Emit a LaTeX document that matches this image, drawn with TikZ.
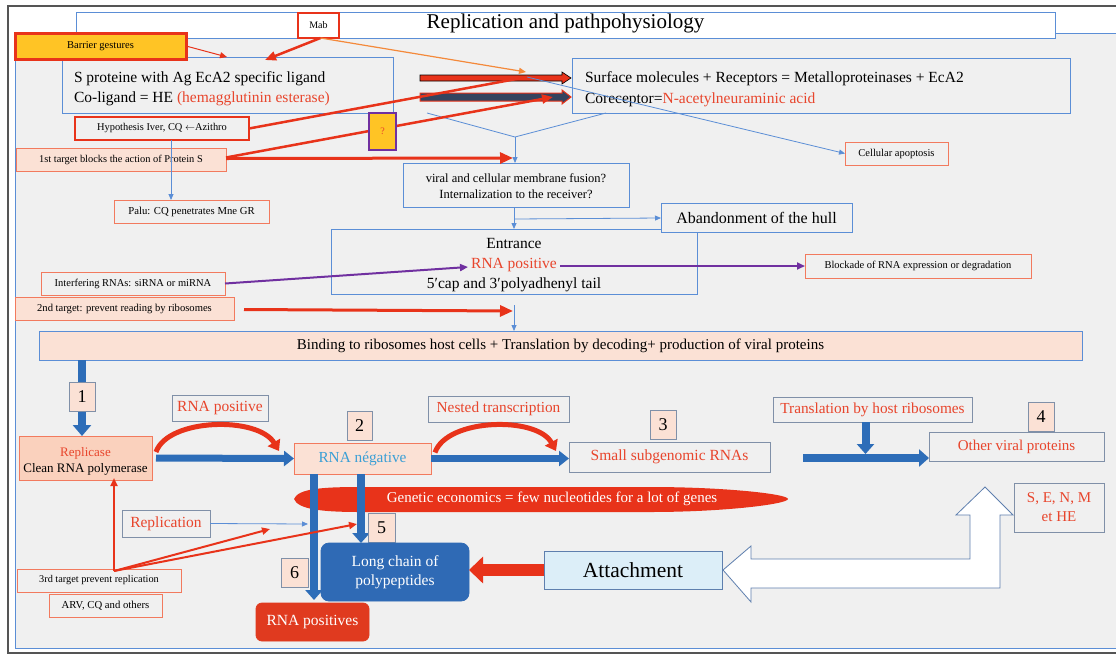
\documentclass[tikz,border=0pt]{standalone}
\usepackage{fontspec}
\setmainfont{Liberation Serif}
\usetikzlibrary{arrows.meta,calc}
\definecolor{bgc}{HTML}{F0F0F0}
\definecolor{bln}{HTML}{5B8ED6}
\definecolor{rdt}{HTML}{E8452C}
\definecolor{rdl}{HTML}{E8331A}
\definecolor{salf}{HTML}{FBE1D5}
\definecolor{sald}{HTML}{F27A5E}
\definecolor{repf}{HTML}{FAD1BD}
\definecolor{gld}{HTML}{FFC425}
\definecolor{purp}{HTML}{7030A0}
\definecolor{blA}{HTML}{2D6DB8}
\definecolor{chainf}{HTML}{2F6AB5}
\definecolor{attf}{HTML}{DCEEF8}
\definecolor{attd}{HTML}{5E7FAE}
\definecolor{numd}{HTML}{8090A8}
\definecolor{orng}{HTML}{F4893A}
\definecolor{negt}{HTML}{3A9FD5}
\definecolor{darkbar}{HTML}{34445F}
\definecolor{grayf}{HTML}{555555}
\definecolor{rposf}{HTML}{E03A1F}
\newcommand\fsz[1]{\fontsize{#1}{1.25\dimexpr #1pt\relax}\selectfont}
\newcommand\dnl[2]{\raisebox{-#1}[\height][\depth]{\begin{tabular}{@{}l@{}}#2\end{tabular}}}
\newcommand\dnc[2]{\raisebox{-#1}[\height][\depth]{\begin{tabular}{@{}c@{}}#2\end{tabular}}}
\begin{document}
\begin{tikzpicture}[x=1pt,y=-1pt,
  bx/.style={inner sep=0pt, outer sep=0pt, anchor=north west, align=center, line width=0.8pt},
  bl/.style={bx, draw=bln},
  sl/.style={bx, draw=sald},
  nb/.style={bx, draw=numd, fill=salf, font=\fsz{18}},
  thinb/.style={draw=bln, line width=0.8pt, -{Triangle[length=6pt,width=5pt]}},
  thickr/.style={draw=rdl, line width=2.5pt, -{Triangle[length=11pt,width=9pt]}},
  fatb/.style={draw=blA, line width=8pt, -{Triangle[length=11pt,width=18pt]}},
  curv/.style={draw=rdl, line width=5pt, -{Triangle[length=10pt,width=14pt]}},
  purpa/.style={draw=purp, line width=2pt, -{Triangle[length=8pt,width=7pt]}}
]
\useasboundingbox (0,0) rectangle (1116,654);
\fill[white] (0,0) rectangle (1116,654);
\fill[bgc] (15,33) rectangle (1116,648);
\draw[bln, line width=0.8pt] (1116,33) -- (15,33) -- (15,648) -- (1116,648);
\draw[grayf, line width=1.5pt] (1116,6) -- (8,6) -- (8,653) -- (1116,653);

% ---------- top ----------
\node[bl, fill=white, minimum width=979, minimum height=26, font=\fsz{21}] (title) at (76,12) {\raisebox{1.5pt}[\height][\depth]{Replication and pathpohysiology}};
\node[bl, fill=bgc, minimum width=331, minimum height=56, inner xsep=12pt, anchor=north west, font=\fontsize{15.5}{20}\selectfont] (sprot) at (62,57)
  {\makebox[307pt][l]{\dnl{3pt}{S proteine with Ag EcA2 specific ligand\\Co-ligand = HE \textcolor{rdt}{(hemagglutinin esterase)}}}};
\node[bx, draw=rdl, line width=2.5pt, fill=white, minimum width=41, minimum height=25, font=\fsz{10}] (mab) at (298,13) {Mab};
\node[bx, draw=rdl, line width=3pt, fill=gld, minimum width=171, minimum height=26, font=\fsz{10.5}] (barrier) at (15,33) {Barrier gestures};
\node[bl, fill=bgc, minimum width=498, minimum height=55, inner xsep=13pt, font=\fontsize{15.5}{20.5}\selectfont] (surf) at (572,58)
  {\makebox[472pt][l]{\dnl{3.5pt}{Surface molecules + Receptors = Metalloproteinases + EcA2\\Coreceptor=\textcolor{rdt}{N-acetylneuraminic acid}}}};

% bars
\draw[fill=rdl, draw=black, line width=0.6pt] (420,75) -- (562,75) -- (562,72) -- (571,78) -- (562,84) -- (562,81) -- (420,81) -- cycle;
\draw[fill=darkbar, draw=rdl, line width=1pt] (420,93) -- (562,93) -- (562,90) -- (571,97) -- (562,104) -- (562,101) -- (420,101) -- cycle;
\coordinate (bar1) at (527,77);
\coordinate (bar2) at (553,97);
\coordinate (orgend) at (526,72);

\node[bx, draw=rdl, line width=2.5pt, fill=bgc, minimum width=174, minimum height=23, font=\fsz{10.4}] (hyp) at (75,117) {Hypothesis Iver, CQ $\leftarrow$Azithro};
\node[sl, fill=salf, minimum width=210, minimum height=23, font=\fsz{10.4}] (first) at (16,148) {1st target blocks the action of Protein S};
\node[sl, fill=bgc, minimum width=155, minimum height=23, font=\fsz{10.7}] (palu) at (114,200) {Palu: CQ penetrates Mne GR};
\node[bl, fill=bgc, minimum width=226, minimum height=44, font=\fontsize{12.5}{16}\selectfont] (viral) at (403,163) {\dnc{2pt}{viral and cellular membrane fusion?\\Internalization to the receiver?}};
\node[sl, fill=bgc, minimum width=103, minimum height=23, font=\fsz{10.5}] (apop) at (845,142) {Cellular apoptosis};
\node[bl, minimum width=366, minimum height=65, font=\fontsize{15.5}{20}\selectfont] (entr) at (331,229) {\dnc{3pt}{Entrance\\\textcolor{rdt}{RNA positive}\\5′cap and 3′polyadhenyl tail}};
\node[bl, fill=bgc, minimum width=191, minimum height=29, font=\fsz{16}] (aband) at (661,203) {Abandonment of the hull};
\node[sl, fill=bgc, minimum width=184, minimum height=23, font=\fsz{10.5}] (interf) at (41,272) {Interfering RNAs: siRNA or miRNA};
\node[sl, fill=salf, minimum width=219, minimum height=23, font=\fsz{10.6}] (second) at (15,297) {2nd target: prevent reading by ribosomes};
\node[sl, fill=bgc, minimum width=226, minimum height=24, font=\fsz{10.5}] (block) at (805,254) {Blockade of RNA expression or degradation};
\node[bl, fill=salf, minimum width=1043, minimum height=29, font=\fsz{15}] (bind) at (39,331) {Binding to ribosomes host cells + Translation by decoding+ production of viral proteins};

% top connectors
\draw[draw=rdl, line width=1pt, -{Triangle[length=7pt,width=6pt]}] (barrier.east) -- ([xshift=165pt]sprot.north west);
\draw[thickr] ([xshift=2pt]mab.south) -- ([xshift=203pt,yshift=-3pt]sprot.north west);
\draw[draw=orng, line width=1.2pt, -{Triangle[length=7pt,width=6pt]}] ([xshift=2pt]mab.south) -- (orgend);
\draw[draw=bln, line width=0.8pt, -{Triangle[length=6pt,width=5pt]}] (bar1) -- (apop.west);
\coordinate (vl) at (427,113);
\coordinate (vtx) at (515,137);
\draw[draw=bln, line width=0.8pt] (vl) -- (vtx) -- ([xshift=34pt]surf.south west);
\draw[thinb] (vtx) -- (vtx |- viral.north);
\draw[draw=rdl, line width=2.5pt] (hyp.east) -- (bar1);
\draw[thickr] ([yshift=2pt]first.east) -- (bar2);
\draw[draw=rdl, line width=3pt, -{Triangle[length=13pt,width=11pt]}] ([yshift=1pt]first.east) -- ([xshift=-3pt,yshift=5pt]viral.north);
\node[bx, draw=purp, line width=2.5pt, fill=gld, minimum width=27, minimum height=37, font=\fsz{10}] (q) at (369,113) {\textcolor{rdt}{?}};
\draw[thinb] ([xshift=9pt]hyp.south) -- ([xshift=9pt]hyp.south |- palu.north);
\draw[thinb] ([xshift=-2pt]viral.south) -- ([xshift=-2pt]viral.south |- entr.north);
\draw[thinb] ([xshift=-2pt,yshift=-12pt]viral.south) -- ([yshift=-0.5pt]aband.west);
\coordinate (rnap) at (468,267);
\coordinate (rnape) at (560,266);
\draw[purpa] (interf.east) -- (rnap);
\draw[purpa] (rnape) -- (rnape -| block.west);
\coordinate (sec) at (513,311);
\draw[draw=rdl, line width=3pt, -{Triangle[length=13pt,width=11pt]}] ([xshift=10pt,yshift=-1pt]second.east) -- (sec);
\draw[thinb] ([yshift=-11pt]entr.south) -- (entr.south |- bind.north);

% ---------- bottom ----------
\coordinate (ell) at (294,499);
\draw[fatb] (82,360) -- (82,436);
\node[nb, minimum width=26, minimum height=29] (one) at (69,382) {1};
\node[bx, draw=sald, line width=1pt, fill=repf, minimum width=133, minimum height=44, font=\fontsize{13}{16}\selectfont] (repl) at (19,436) {\dnc{3pt}{\textcolor{rdt}{Replicase}\\Clean RNA polymerase}};
\node[bx, draw=numd, fill=bgc, minimum width=96, minimum height=26, font=\fsz{15.5}] (posl) at (172,395) {\textcolor{rdt}{RNA positive}};
\node[nb, minimum width=25, minimum height=29] (two) at (347,411) {2};
\node[bx, draw=sald, line width=1pt, fill=salf, minimum width=137, minimum height=31, font=\fsz{15.3}] (neg) at (294,443) {\textcolor{negt}{RNA négative}};
\node[bx, draw=numd, fill=bgc, minimum width=141, minimum height=26, font=\fsz{15.3}] (nest) at (428,396) {\textcolor{rdt}{Nested transcription}};
\node[nb, minimum width=26, minimum height=29] (three) at (650,410) {3};
\node[bx, draw=numd, fill=bgc, minimum width=201, minimum height=30, font=\fsz{15.5}] (small) at (569,442) {\textcolor{rdt}{Small subgenomic RNAs}};
\node[bx, draw=numd, fill=bgc, minimum width=199, minimum height=25, font=\fsz{15.3}] (trans) at (773,397) {\textcolor{rdt}{Translation by host ribosomes}};
\node[nb, minimum width=26, minimum height=29] (four) at (1028,402) {4};
\node[bx, draw=numd, fill=bgc, minimum width=175, minimum height=29, font=\fsz{15}] (other) at (929,432) {\textcolor{rdt}{Other viral proteins}};
\node[bx, draw=numd, fill=bgc, minimum width=90, minimum height=49, font=\fontsize{15}{19}\selectfont] (senm) at (1014,483) {\textcolor{rdt}{S, E, N, M}\\\textcolor{rdt}{et HE}};

\draw[fatb, line width=7pt, -{Triangle[length=10pt,width=15pt]}] ([xshift=4pt]repl.east) -- (neg.west);
\draw[fatb, line width=7pt, -{Triangle[length=10pt,width=15pt]}] (neg.east) -- (neg.east -| small.west);
\draw[curv] ([xshift=4pt,yshift=6pt]repl.east) .. controls (168,418) and (258,416) .. ([xshift=-15pt,yshift=-8pt]neg.north west);
\draw[curv] ([xshift=4pt,yshift=6pt]neg.east) .. controls (447,418) and (537,416) .. ([xshift=-13pt,yshift=-9pt]small.north west);
\draw[fatb, -{Triangle[length=10pt,width=17pt]}] ([xshift=-7pt]trans.south) -- ++(0,32);
\coordinate (tst) at (803,458);
\draw[fatb, -{Triangle[length=10pt,width=17pt]}] (tst) -- ([yshift=3pt]other.south west);

% genetic economics lens
\fill[fill=rdl] (ell) .. controls (298,489) and (320,487) .. (360,487) -- (650,487) .. controls (725,487) and (788,494) .. (788,499)
   .. controls (788,504) and (725,512) .. (650,512) -- (360,512) .. controls (320,512) and (298,509) .. cycle;
\node[font=\fsz{15}, text=white] (gen) at (552,499) {Genetic economics = few nucleotides for a lot of genes};

\draw[fatb, -{Triangle[length=10pt,width=17pt]}] ([xshift=20pt]neg.south west) -- (314,600);
\draw[fatb, -{Triangle[length=10pt,width=17pt]}] ([xshift=67pt]neg.south west) -- (361,543);

\node[bx, draw=numd, fill=bgc, minimum width=88, minimum height=27, font=\fsz{15.5}] (replic) at (122,510) {\textcolor{rdt}{Replication}};
\coordinate (repe) at (308,524);
\draw[thinb] (replic.east) -- (repe);
\node[nb, minimum width=27, minimum height=29] (five) at (368,513) {5};
\node[nb, minimum width=27, minimum height=29] (six) at (281,558) {6};
\node[bx, draw=chainf, fill=chainf, rounded corners=8pt, minimum width=148, minimum height=58, text=white, font=\fontsize{15.5}{19}\selectfont] (chain) at (321,543) {Long chain of\\polypeptides};
\node[bx, draw=rposf, fill=rposf, rounded corners=6pt, minimum width=113, minimum height=38, text=white, font=\fsz{15.5}] (rpos) at (256,603) {RNA positives};
\node[sl, fill=bgc, minimum width=164, minimum height=23, font=\fsz{10.3}] (third) at (17,569) {3rd target prevent replication};
\node[sl, fill=bgc, minimum width=113, minimum height=23, font=\fsz{10.7}] (arv) at (49,594) {ARV, CQ and others};
\coordinate (r1) at (270,529);
\coordinate (r2) at (357,524);
\draw[draw=rdl, line width=2pt, -{Triangle[length=8pt,width=7pt]}] ([xshift=15pt,yshift=-2pt]third.north) -- ([xshift=15pt,yshift=2pt]third.north |- repl.south);
\draw[draw=rdl, line width=2pt, -{Triangle[length=8pt,width=7pt]}] ([xshift=15pt,yshift=-2pt]third.north) -- (r1);
\draw[draw=rdl, line width=2pt, -{Triangle[length=8pt,width=7pt]}] ([xshift=15pt,yshift=-2pt]third.north) -- (r2);

\node[bx, draw=attd, fill=attf, minimum width=178, minimum height=38, font=\fsz{21.5}] (attach) at (544,551) {Attachment};
\draw[draw=rdl, line width=12pt, -{Triangle[length=14pt,width=26pt]}] (attach.west) -- (attach.west -| chain.east);
\draw[draw=attd, fill=white, line width=0.8pt] ([xshift=1pt]attach.east) -- (751,546) -- (751,559) -- (970,559) -- (970,515) -- (956,515) -- (985,487) -- (1013,515) -- (1000,515) -- (1000,588) -- (751,588) -- (751,602) -- cycle;
\end{tikzpicture}
\end{document}
